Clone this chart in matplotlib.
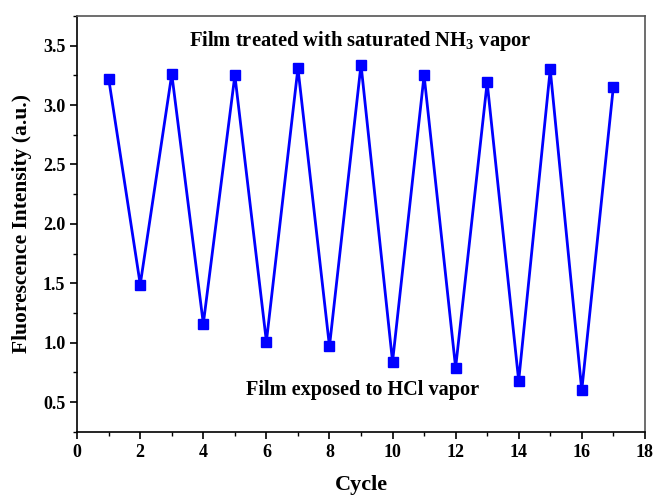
import matplotlib
matplotlib.use("Agg")
import matplotlib.pyplot as plt
from matplotlib.ticker import MultipleLocator

# Fluorescence intensity over alternating NH3 / HCl exposure cycles
cycles = list(range(1, 18))
intensity = [3.22, 1.49, 3.26, 1.16, 3.25, 1.01, 3.31, 0.97, 3.34,
             0.84, 3.25, 0.79, 3.19, 0.68, 3.30, 0.60, 3.15]

plt.rcParams['font.family'] = ['Liberation Serif', 'DejaVu Serif']
plt.rcParams['font.weight'] = 'bold'
plt.rcParams['mathtext.fontset'] = 'custom'
plt.rcParams['mathtext.rm'] = 'Liberation Serif:bold'
plt.rcParams['mathtext.bf'] = 'Liberation Serif:bold'

fig = plt.figure(figsize=(6.54, 4.97), dpi=100)
ax = fig.add_axes([0.118, 0.131, 0.868, 0.837])

ax.plot(cycles, intensity, color='#0000ff', lw=2, marker='s', ms=7,
        markerfacecolor='#0000ff', markeredgecolor='#0000ff')

ax.set_xlim(0, 18)
ax.set_ylim(0.25, 3.75)
ax.xaxis.set_major_locator(MultipleLocator(2))
ax.xaxis.set_minor_locator(MultipleLocator(1))
ax.yaxis.set_major_locator(MultipleLocator(0.5))
ax.yaxis.set_minor_locator(MultipleLocator(0.25))
ax.tick_params(which='major', direction='out', length=5, width=1.2, labelsize=13)
ax.tick_params(which='minor', direction='out', length=3, width=1.0)
for lab in ax.get_xticklabels() + ax.get_yticklabels():
    lab.set_fontweight('bold')
for s in ax.spines.values():
    s.set_linewidth(1.2)
ax.spines['top'].set_color('#555555')
ax.spines['right'].set_color('#555555')

ax.set_xlabel('Cycle', fontsize=16, fontweight='bold', labelpad=10)
ax.set_ylabel('Fluorescence Intensity (a.u.)', fontsize=15.5, fontweight='bold', labelpad=8)

ax.text(8.97, 3.54, r'Film treated with saturated NH$_3$ vapor', ha='center', va='center',
        fontsize=14.8, fontweight='bold')
ax.text(9.06, 0.60, 'Film exposed to HCl vapor', ha='center', va='center',
        fontsize=14.6, fontweight='bold')

fig.savefig('out.png', dpi=100)
